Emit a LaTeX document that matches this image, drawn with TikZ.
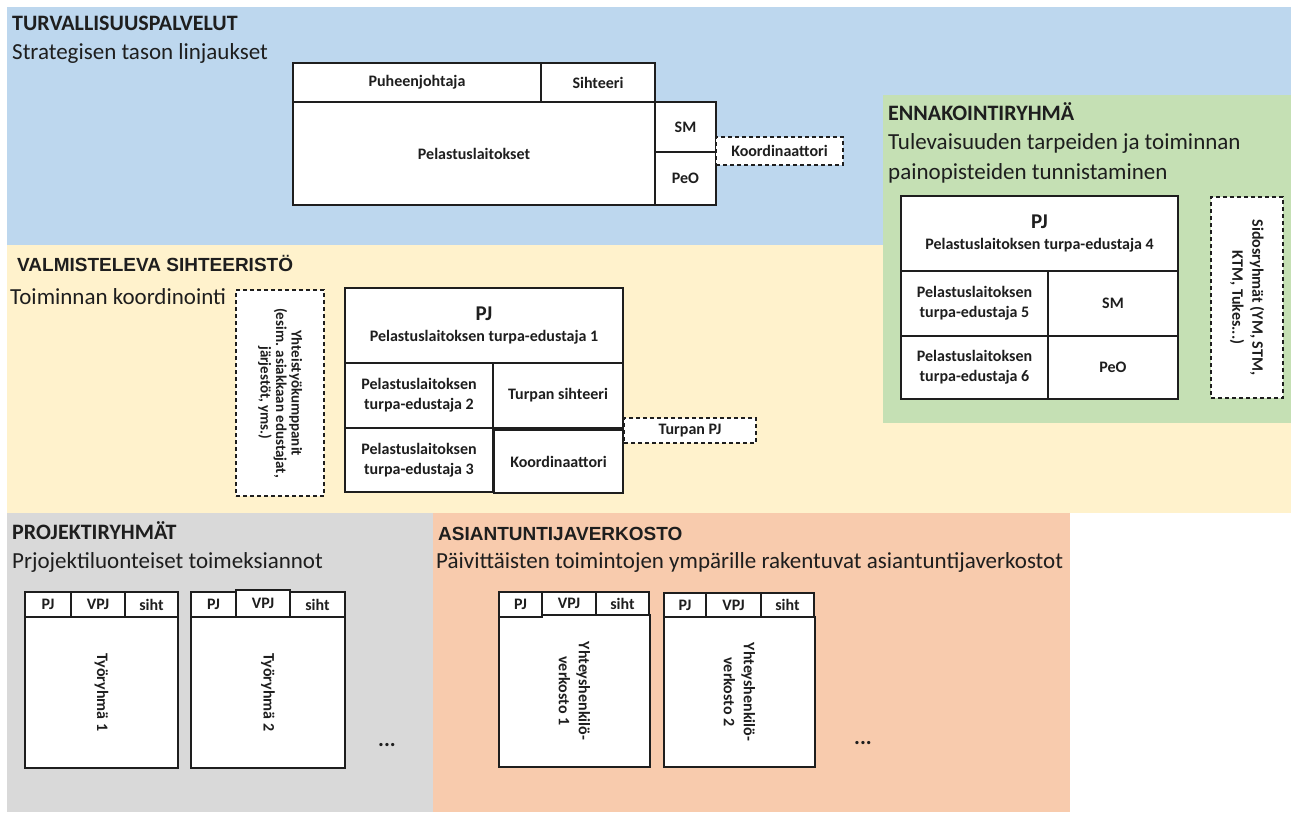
\documentclass[tikz,border=0pt]{standalone}
\usepackage{fontspec}
\setmainfont{Carlito}
\newfontfamily\arialfont{Liberation Sans}
\definecolor{bluebg}{HTML}{BDD7EE}
\definecolor{yellowbg}{HTML}{FFF2CC}
\definecolor{greenbg}{HTML}{C5E0B4}
\definecolor{graybg}{HTML}{D9D9D9}
\definecolor{orangebg}{HTML}{F8CBAD}
\definecolor{ink}{HTML}{1E1E1E}
\newcommand{\placebox}[7]{\node[#1,minimum width={#4-#2},minimum height={#5-#3}] (#6) at ({(#2+#4)/2},{(#3+#5)/2}) {#7};}
\tikzset{
  region/.style={draw=none,inner sep=0pt,outer sep=0pt},
  cell/.style={draw=ink,line width=1.1pt,fill=white,inner sep=0pt,align=center,text=ink,
    font=\bfseries\fontsize{16}{20}\selectfont},
  dcell/.style={cell,dash pattern=on 4pt off 3pt},
  title/.style={inner sep=0pt,text=ink,font=\bfseries\fontsize{22}{26}\selectfont},
  atitle/.style={inner sep=0pt,text=ink,font=\arialfont\bfseries\fontsize{19}{22}\selectfont},
  sub/.style={inner sep=0pt,text=ink,font=\fontsize{23}{27}\selectfont},
  vtext/.style={inner sep=0pt,align=center,text=ink,font=\bfseries\fontsize{16}{20}\selectfont},
  dots/.style={inner sep=0pt,text=ink,font=\bfseries\fontsize{22}{26}\selectfont}
}
\begin{document}
\begin{tikzpicture}[x=1pt,y=-1pt]
\useasboundingbox (0,0) rectangle (1299,812);
% background regions
\placebox{region,fill=bluebg}{7}{7}{1291}{245}{turva}{}
\placebox{region,fill=yellowbg}{7}{245}{1291}{513}{valm}{}
\placebox{region,fill=greenbg}{883}{95}{1291}{423}{ennak}{}
\placebox{region,fill=graybg}{7}{513}{433}{812}{proj}{}
\placebox{region,fill=orangebg}{433}{513}{1070}{812}{asiant}{}
% titles
\node[title,anchor=base west] (t1) at (12,30) {TURVALLISUUSPALVELUT};
\node[sub,anchor=base west] (s1) at (12,59) {Strategisen tason linjaukset};
\node[atitle,anchor=base west] (t2) at (17,271) {VALMISTELEVA SIHTEERISTÖ};
\node[sub,anchor=base west] (s2) at (10,304) {Toiminnan koordinointi};
\node[title,anchor=base west] (t3) at (888,120) {ENNAKOINTIRYHMÄ};
\node[sub,anchor=base west] (s3a) at (888,149) {Tulevaisuuden tarpeiden ja toiminnan};
\node[sub,anchor=base west] (s3b) at (888,179) {painopisteiden tunnistaminen};
\node[title,anchor=base west] (t4) at (12,539) {PROJEKTIRYHMÄT};
\node[sub,anchor=base west] (s4) at (12,568) {Prjojektiluonteiset toimeksiannot};
\node[atitle,anchor=base west] (t5) at (438,540) {ASIANTUNTIJAVERKOSTO};
\node[sub,anchor=base west] (s5) at (436,568) {Päivittäisten toimintojen ympärille rakentuvat asiantuntijaverkostot};
% strategic board
\placebox{cell}{293}{63}{541}{102}{puh}{Puheenjohtaja}
\placebox{cell}{541}{63}{655}{102}{siht}{Sihteeri}
\placebox{cell}{293}{102}{655}{205}{pel}{Pelastuslaitokset}
\placebox{cell}{655}{102}{716}{152}{sm1}{SM}
\placebox{cell}{655}{152}{716}{205}{peo1}{PeO}
\placebox{dcell}{716}{137}{843}{165}{koord1}{Koordinaattori}
% secretariat
\placebox{dcell}{236}{290}{324}{496}{yhteis}{}
\node[vtext,rotate=-90,font=\bfseries\fontsize{15}{15.5}\selectfont] (yhteist) at (yhteis.center) {Yhteistyökumppanit\\(esim. asiakkaan edustajat,\\järjestöt, yms.)};
\placebox{cell}{345}{288}{623}{363}{pj1}{{\fontsize{21}{24}\selectfont PJ}\\[1pt]Pelastuslaitoksen turpa-edustaja 1}
\placebox{cell}{345}{363}{493}{428}{ed2}{Pelastuslaitoksen\\turpa-edustaja 2}
\placebox{cell}{493}{363}{623}{428}{tsiht}{Turpan sihteeri}
\placebox{cell}{345}{428}{493}{492}{ed3}{Pelastuslaitoksen\\turpa-edustaja 3}
\placebox{cell}{494}{430}{623}{493}{koord2}{Koordinaattori}
\placebox{dcell}{624}{418}{756}{443}{tpj}{Turpan PJ}
% foresight group
\placebox{cell}{901}{196}{1178}{271}{pj4}{{\fontsize{21}{24}\selectfont PJ}\\[1pt]Pelastuslaitoksen turpa-edustaja 4}
\placebox{cell}{901}{271}{1048}{336}{ed5}{Pelastuslaitoksen\\turpa-edustaja 5}
\placebox{cell}{1048}{271}{1178}{336}{sm2}{SM}
\placebox{cell}{901}{336}{1048}{399}{ed6}{Pelastuslaitoksen\\turpa-edustaja 6}
\placebox{cell}{1048}{336}{1178}{399}{peo2}{PeO}
\placebox{dcell}{1211}{197}{1283}{398}{sidos}{}
\node[vtext,rotate=-90] (sidost) at (sidos.center) {Sidosryhmät (YM, STM,\\KTM, Tukes...)};
% project groups
\placebox{cell}{25}{617}{178}{768}{tr1}{}
\placebox{cell}{25}{592}{71}{617}{tr1pj}{PJ}
\placebox{cell}{71}{592}{125}{617}{tr1vpj}{VPJ}
\placebox{cell}{125}{592}{178}{617}{tr1s}{siht}
\node[vtext,rotate=-90] (tr1t) at (tr1.center) {Työryhmä 1};
\placebox{cell}{191}{617}{345}{768}{tr2}{}
\placebox{cell}{191}{592}{236}{617}{tr2pj}{PJ}
\placebox{cell}{236}{590}{290}{617}{tr2vpj}{VPJ}
\placebox{cell}{290}{592}{345}{617}{tr2s}{siht}
\node[vtext,rotate=-90] (tr2t) at (tr2.center) {Työryhmä 2};
\node[dots] (dots1) at (387,745) {...};
% expert networks
\placebox{cell}{499}{615}{650}{767}{yv1}{}
\placebox{cell}{499}{592}{542}{617}{yv1pj}{PJ}
\placebox{cell}{542}{592}{596}{615}{yv1vpj}{VPJ}
\placebox{cell}{596}{592}{649}{615}{yv1s}{siht}
\node[vtext,rotate=-90] (yv1t) at (yv1.center) {Yhteyshenkilö-\\verkosto 1};
\placebox{cell}{664}{617}{815}{767}{yv2}{}
\placebox{cell}{664}{593}{706}{617}{yv2pj}{PJ}
\placebox{cell}{706}{593}{761}{617}{yv2vpj}{VPJ}
\placebox{cell}{761}{593}{814}{617}{yv2s}{siht}
\node[vtext,rotate=-90] (yv2t) at (yv2.center) {Yhteyshenkilö-\\verkosto 2};
\node[dots] (dots2) at (863,743) {...};
\end{tikzpicture}
\end{document}
